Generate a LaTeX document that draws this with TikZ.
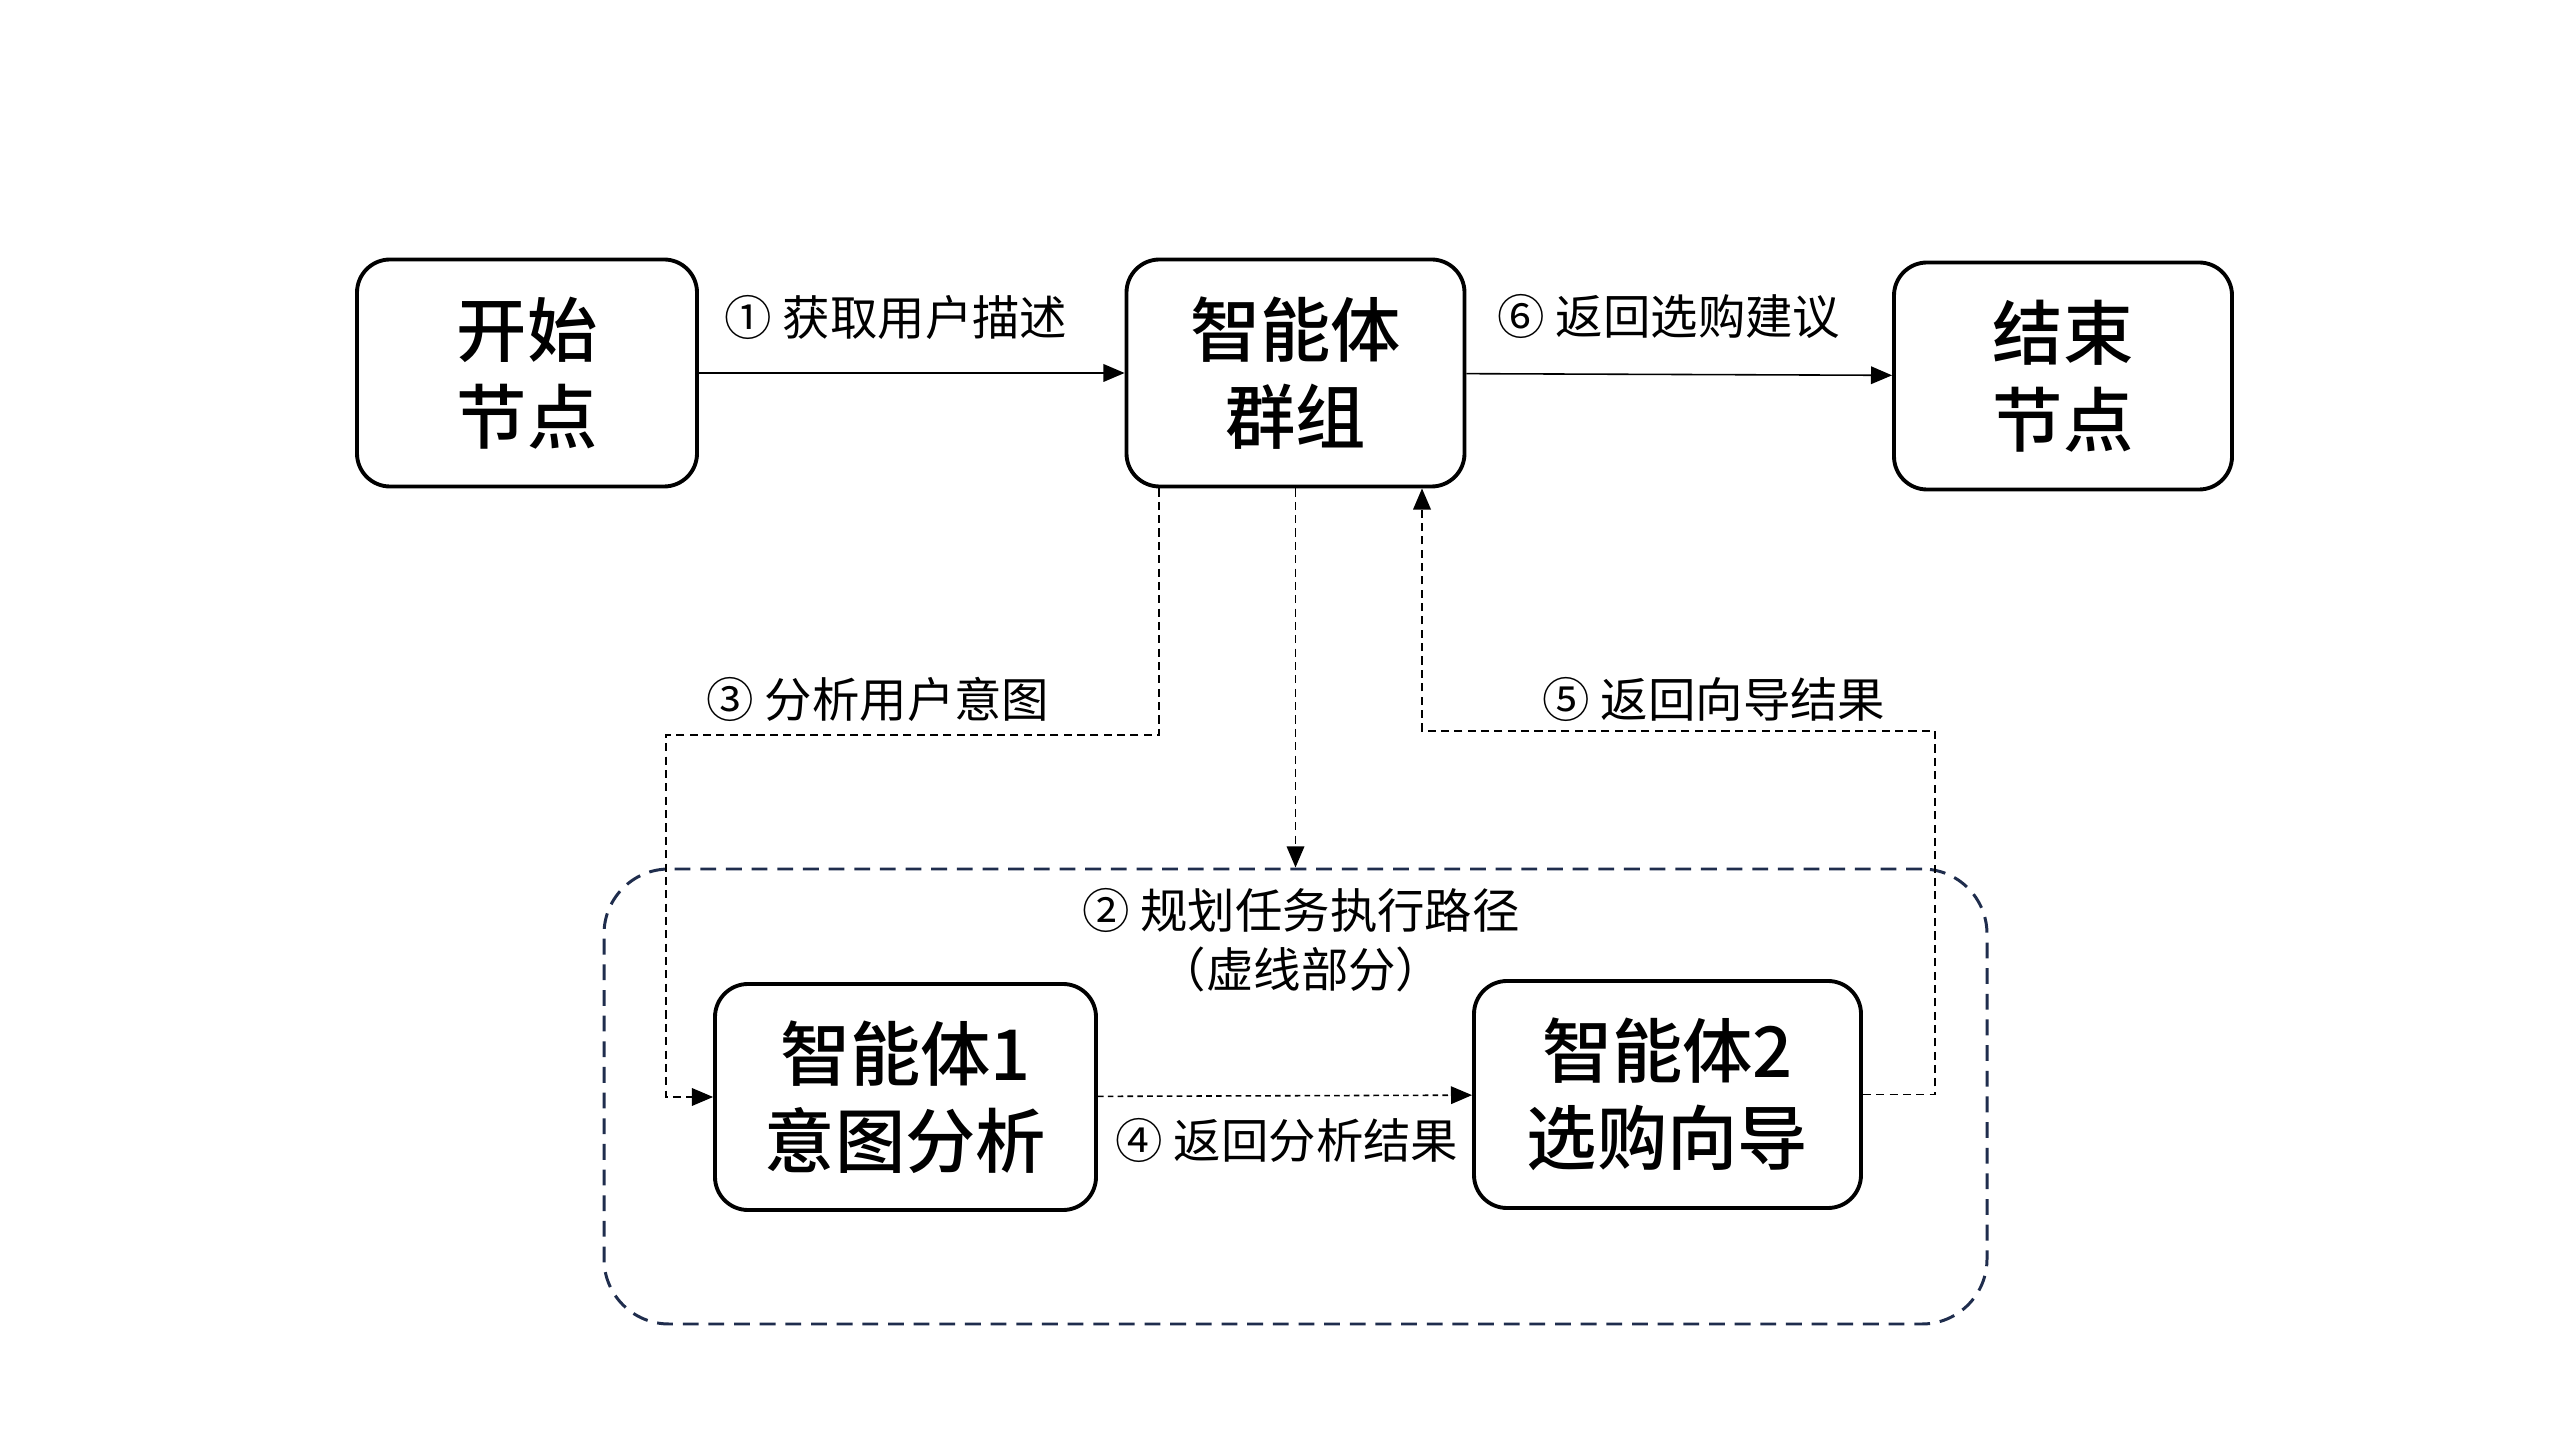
\documentclass[tikz,border=0pt]{standalone}
\usepackage{fontspec}
\IfFontExistsTF{Noto Sans CJK SC Medium}
  {\setmainfont{Noto Sans CJK SC}[BoldFont={Noto Sans CJK SC Medium}]}
  {\setmainfont{Noto Sans CJK SC}}
\usetikzlibrary{arrows.meta}
\definecolor{navy}{HTML}{1F2D4D}
\begin{document}
\begin{tikzpicture}[
  box/.style={draw,line width=1.1pt,rounded corners=0.33cm,align=center,font=\fontsize{20}{24.6}\selectfont\bfseries,inner sep=0pt},
  lbl/.style={font=\fontsize{13.5}{16.7}\selectfont,align=center,inner sep=0pt},
  flow/.style={line width=0.45pt,-{Triangle[length=6pt,width=5pt]}},
  dflow/.style={flow,dash pattern=on 2.3pt off 1.5pt}]
\useasboundingbox (0,0) rectangle (25.6,14.4);
\fill[white] (0,0) rectangle (25.6,14.4);
% outer dashed group
\node[draw=navy,line width=0.85pt,dash pattern=on 4.5pt off 2.8pt,rounded corners=0.65cm,minimum width=13.83cm,minimum height=4.55cm] (grpbox) at (12.955,3.435) {};
% top row
\node[box,minimum width=3.40cm,minimum height=2.27cm] (start) at (5.27,10.67) {开始\\节点};
\node[box,minimum width=3.38cm,minimum height=2.27cm] (grp) at (12.955,10.67) {智能体\\群组};
\node[box,minimum width=3.38cm,minimum height=2.27cm] (stop) at (20.63,10.64) {结束\\节点};
% agents
\node[box,minimum width=3.81cm,minimum height=2.26cm] (ag1) at (9.055,3.43) {智能体1\\意图分析};
\node[box,minimum width=3.87cm,minimum height=2.27cm] (ag2) at (16.675,3.455) {智能体2\\选购向导};
\coordinate (c3) at (6.66,7.05);
\coordinate (c5) at (19.35,7.09);
% connectors
\draw[flow] (start) -- (grp);
\draw[flow] (grp) -- (stop);
\draw[dflow] (grp.south) -- (grpbox.north);
\draw[dflow] ([xshift=-1.365cm]grp.south) |- (c3) |- (ag1.west);
\draw[flow,dash pattern=on 1.6pt off 1.2pt] (ag1) -- (ag2);
\draw[dflow] (ag2.east) -| (c5) -| ([xshift=1.265cm]grp.south);
% labels
\node[lbl] (l1) at (8.96,11.23) {① 获取用户描述};
\node[lbl] (l6) at (16.69,11.23) {⑥ 返回选购建议};
\node[lbl] (l3) at (8.78,7.41) {③ 分析用户意图};
\node[lbl] (l5) at (17.14,7.41) {⑤ 返回向导结果};
\node[lbl] (l2) at (13.01,5.0) {② 规划任务执行路径\\（虚线部分）};
\node[lbl] (l4) at (12.87,3.00) {④ 返回分析结果};
\end{tikzpicture}
\end{document}
